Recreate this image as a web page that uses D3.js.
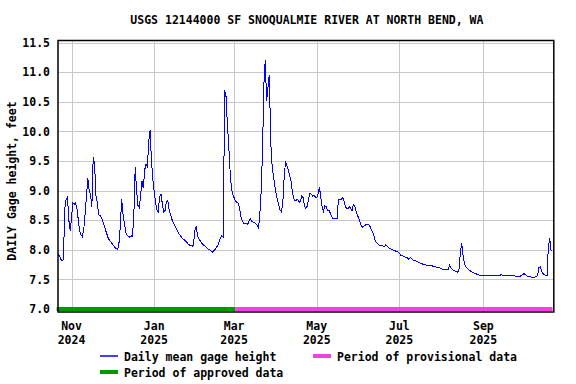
<!DOCTYPE html>
<html>
<head>
<meta charset="utf-8">
<script src="https://cdn.jsdelivr.net/npm/d3@7"></script>
<style>
  body { margin: 0; background: #fff; }
  svg text { font-family: "DejaVu Sans Mono", monospace; font-weight: bold; font-size: 11.5px; }
</style>
</head>
<body>
<div id="chart"></div>
<script>
// === Data ===
const title = "USGS 12144000 SF SNOQUALMIE RIVER AT NORTH BEND, WA";
const yLabel = "DAILY Gage height, feet";

// daily mean gage height (ft), one value per day starting at firstDay
const firstDay = "2024-10-22";
const gageHeight = [
  7.92, 7.90, 7.84, 7.82, 7.83, 8.70, 8.85, 8.89, 8.50, 8.32,
  8.55, 8.79, 8.77, 8.79, 8.70, 8.50, 8.31, 8.25, 8.22, 8.34,
  8.60, 8.90, 9.21, 9.00, 8.94, 8.73, 9.57, 9.45, 8.92, 8.80,
  8.59, 8.58, 8.55, 8.48, 8.41, 8.34, 8.27, 8.20, 8.16, 8.13,
  8.10, 8.07, 8.04, 8.02, 8.00, 8.11, 8.40, 8.86, 8.60, 8.45,
  8.30, 8.25, 8.23, 8.21, 8.24, 8.22, 8.60, 9.40, 9.00, 8.75,
  8.71, 8.93, 9.16, 9.04, 9.35, 9.45, 9.41, 9.84, 10.02, 9.50,
  9.19, 8.98, 8.80, 8.67, 8.64, 8.90, 8.94, 8.78, 8.64, 8.66,
  8.81, 8.84, 8.68, 8.60, 8.52, 8.47, 8.42, 8.37, 8.33, 8.28,
  8.25, 8.22, 8.19, 8.17, 8.15, 8.13, 8.10, 8.08, 8.07, 8.06,
  8.08, 8.33, 8.40, 8.24, 8.18, 8.15, 8.11, 8.09, 8.07, 8.05,
  8.03, 8.01, 8.00, 7.98, 7.96, 7.99, 8.00, 8.04, 8.08, 8.14,
  8.21, 8.24, 8.21, 10.70, 10.60, 10.14, 9.77, 9.35, 9.05, 8.93,
  8.88, 8.83, 8.80, 8.79, 8.72, 8.56, 8.50, 8.45, 8.44, 8.44,
  8.43, 8.48, 8.52, 8.48, 8.47, 8.46, 8.44, 8.41, 8.37, 8.60,
  9.00, 9.70, 10.80, 11.21, 10.51, 10.75, 10.96, 9.84, 9.45, 9.25,
  9.09, 8.95, 8.84, 8.75, 8.67, 8.64, 8.80, 9.25, 9.49, 9.42,
  9.35, 9.25, 9.17, 8.98, 8.86, 8.83, 8.84, 8.85, 8.80, 8.82,
  8.91, 8.88, 8.73, 8.70, 8.74, 8.86, 8.95, 8.94, 8.90, 8.92,
  8.89, 8.88, 8.95, 9.06, 8.88, 8.72, 8.65, 8.74, 8.73, 8.67,
  8.67, 8.62, 8.57, 8.53, 8.52, 8.53, 8.53, 8.85, 8.85, 8.85,
  8.88, 8.84, 8.75, 8.69, 8.69, 8.73, 8.70, 8.66, 8.76, 8.74,
  8.65, 8.59, 8.53, 8.46, 8.40, 8.38, 8.40, 8.42, 8.43, 8.43,
  8.41, 8.36, 8.31, 8.25, 8.17, 8.12, 8.10, 8.08, 8.08, 8.07,
  8.06, 8.05, 8.09, 8.06, 8.04, 8.02, 8.01, 8.00, 7.99, 7.98,
  7.97, 7.96, 7.94, 7.91, 7.90, 7.89, 7.88, 7.87, 7.86, 7.84,
  7.87, 7.85, 7.83, 7.82, 7.81, 7.80, 7.79, 7.78, 7.77, 7.76,
  7.75, 7.75, 7.74, 7.74, 7.74, 7.73, 7.73, 7.72, 7.71, 7.71,
  7.70, 7.70, 7.69, 7.68, 7.67, 7.67, 7.67, 7.67, 7.67, 7.74,
  7.70, 7.67, 7.65, 7.64, 7.63, 7.62, 7.66, 7.95, 8.11, 7.91,
  7.77, 7.71, 7.69, 7.67, 7.65, 7.63, 7.62, 7.61, 7.60, 7.59,
  7.58, 7.57, 7.57, 7.57, 7.57, 7.57, 7.57, 7.57, 7.57, 7.57,
  7.57, 7.57, 7.57, 7.57, 7.56, 7.56, 7.56, 7.58, 7.57, 7.56,
  7.57, 7.57, 7.56, 7.56, 7.56, 7.57, 7.56, 7.56, 7.55, 7.55,
  7.54, 7.55, 7.57, 7.58, 7.60, 7.58, 7.56, 7.55, 7.54, 7.54,
  7.53, 7.53, 7.54, 7.55, 7.56, 7.70, 7.71, 7.64, 7.60, 7.58,
  7.57, 7.56, 8.05, 8.20, 7.98
];

// data approval periods
const approvedPeriod = ["2024-10-21", "2025-03-02"];
const provisionalPeriod = ["2025-03-02", "2025-10-22"];

// axes
const xDomain = ["2024-10-22", "2025-10-23"];
const yDomain = [6.948, 11.537];
const xTickDates = ["2024-11-01", "2025-01-01", "2025-03-01", "2025-05-01", "2025-07-01", "2025-09-01"];
const yTicks = [7.0, 7.5, 8.0, 8.5, 9.0, 9.5, 10.0, 10.5, 11.0, 11.5];

const legendItems = [
  { label: "Daily mean gage height", color: "#0000ff", width: 1.5, col: 0, row: 0 },
  { label: "Period of provisional data", color: "#ee44dd", width: 4, col: 1, row: 0 },
  { label: "Period of approved data", color: "#009900", width: 4, col: 0, row: 1 }
];

// === Chart ===
const parse = d3.timeParse("%Y-%m-%d");
const start = parse(firstDay);
const series = gageHeight.map((v, i) => ({ date: d3.timeDay.offset(start, i), value: v }));

const plot = { left: 58, right: 553.8, top: 40.5, bottom: 312 };

const svg = d3.select("#chart")
  .append("svg")
  .attr("width", 576)
  .attr("height", 384);

const x = d3.scaleTime()
  .domain(xDomain.map(parse))
  .range([plot.left, plot.right]);

const y = d3.scaleLinear()
  .domain(yDomain)
  .range([plot.bottom, plot.top]);

// Title
svg.append("text")
  .attr("x", (plot.left + plot.right) / 2 + 1)
  .attr("y", 24)
  .attr("text-anchor", "middle")
  .text(title);

// Gridlines
svg.append("g")
  .selectAll("line")
  .data(yTicks)
  .join("line")
  .attr("x1", plot.left)
  .attr("x2", plot.right)
  .attr("y1", d => Math.round(y(d)) + 0.5)
  .attr("y2", d => Math.round(y(d)) + 0.5)
  .attr("stroke", "#c8c8c8");

svg.append("g")
  .selectAll("line")
  .data(xTickDates.map(parse))
  .join("line")
  .attr("x1", d => Math.round(x(d)) + 0.5)
  .attr("x2", d => Math.round(x(d)) + 0.5)
  .attr("y1", plot.top)
  .attr("y2", plot.bottom)
  .attr("stroke", "#c8c8c8");

// Y axis labels
const yAxis = svg.append("g")
  .attr("transform", `translate(${plot.left},0)`)
  .call(d3.axisLeft(y).tickValues(yTicks).tickSize(0).tickPadding(8).tickFormat(d3.format(".1f")));
yAxis.select(".domain").remove();
yAxis.selectAll("text")
  .attr("fill", "#000")
  .style("font-family", "'DejaVu Sans Mono', monospace")
  .style("font-weight", "bold")
  .style("font-size", "11.5px");
yAxis.attr("font-family", null).attr("font-size", null);

// X axis labels (two lines)
const xLabels = svg.append("g")
  .selectAll("text")
  .data(xTickDates.map(parse))
  .join("text")
  .attr("text-anchor", "middle");
xLabels.append("tspan")
  .attr("x", d => x(d))
  .attr("y", 329.5)
  .text(d3.timeFormat("%b"));
xLabels.append("tspan")
  .attr("x", d => x(d))
  .attr("y", 343.5)
  .text(d3.timeFormat("%Y"));

// Y axis title
svg.append("text")
  .attr("transform", "translate(16,181) rotate(-90)")
  .attr("text-anchor", "middle")
  .text(yLabel);

// Period bars
[[approvedPeriod, "#009900"], [provisionalPeriod, "#ee44dd"]].forEach(([p, c]) => {
  svg.append("line")
    .attr("x1", x(parse(p[0])))
    .attr("x2", x(parse(p[1])))
    .attr("y1", y(7.0))
    .attr("y2", y(7.0))
    .attr("stroke", c)
    .attr("stroke-width", 4);
});

// Gage height line
const line = d3.line()
  .x(d => x(d.date))
  .y(d => y(d.value));

svg.append("path")
  .datum(series)
  .attr("fill", "none")
  .attr("stroke", "#0000ff")
  .attr("stroke-width", 1)
  .attr("shape-rendering", "crispEdges")
  .attr("d", line);

// Frame
svg.append("rect")
  .attr("x", plot.left)
  .attr("y", plot.top)
  .attr("width", plot.right - plot.left)
  .attr("height", plot.bottom - plot.top)
  .attr("fill", "none")
  .attr("stroke", "#000")
  .attr("stroke-width", 1.5);

// Legend
const legend = svg.append("g");
legendItems.forEach(item => {
  const lx = item.col === 0 ? 100 : 313;
  const ly = item.row === 0 ? 356 : 372;
  legend.append("line")
    .attr("x1", lx)
    .attr("x2", lx + 18)
    .attr("y1", ly)
    .attr("y2", ly)
    .attr("stroke", item.color)
    .attr("stroke-width", item.width);
  legend.append("text")
    .attr("x", lx + 24)
    .attr("y", ly + 4.5)
    .text(item.label);
});
</script>
</body>
</html>
